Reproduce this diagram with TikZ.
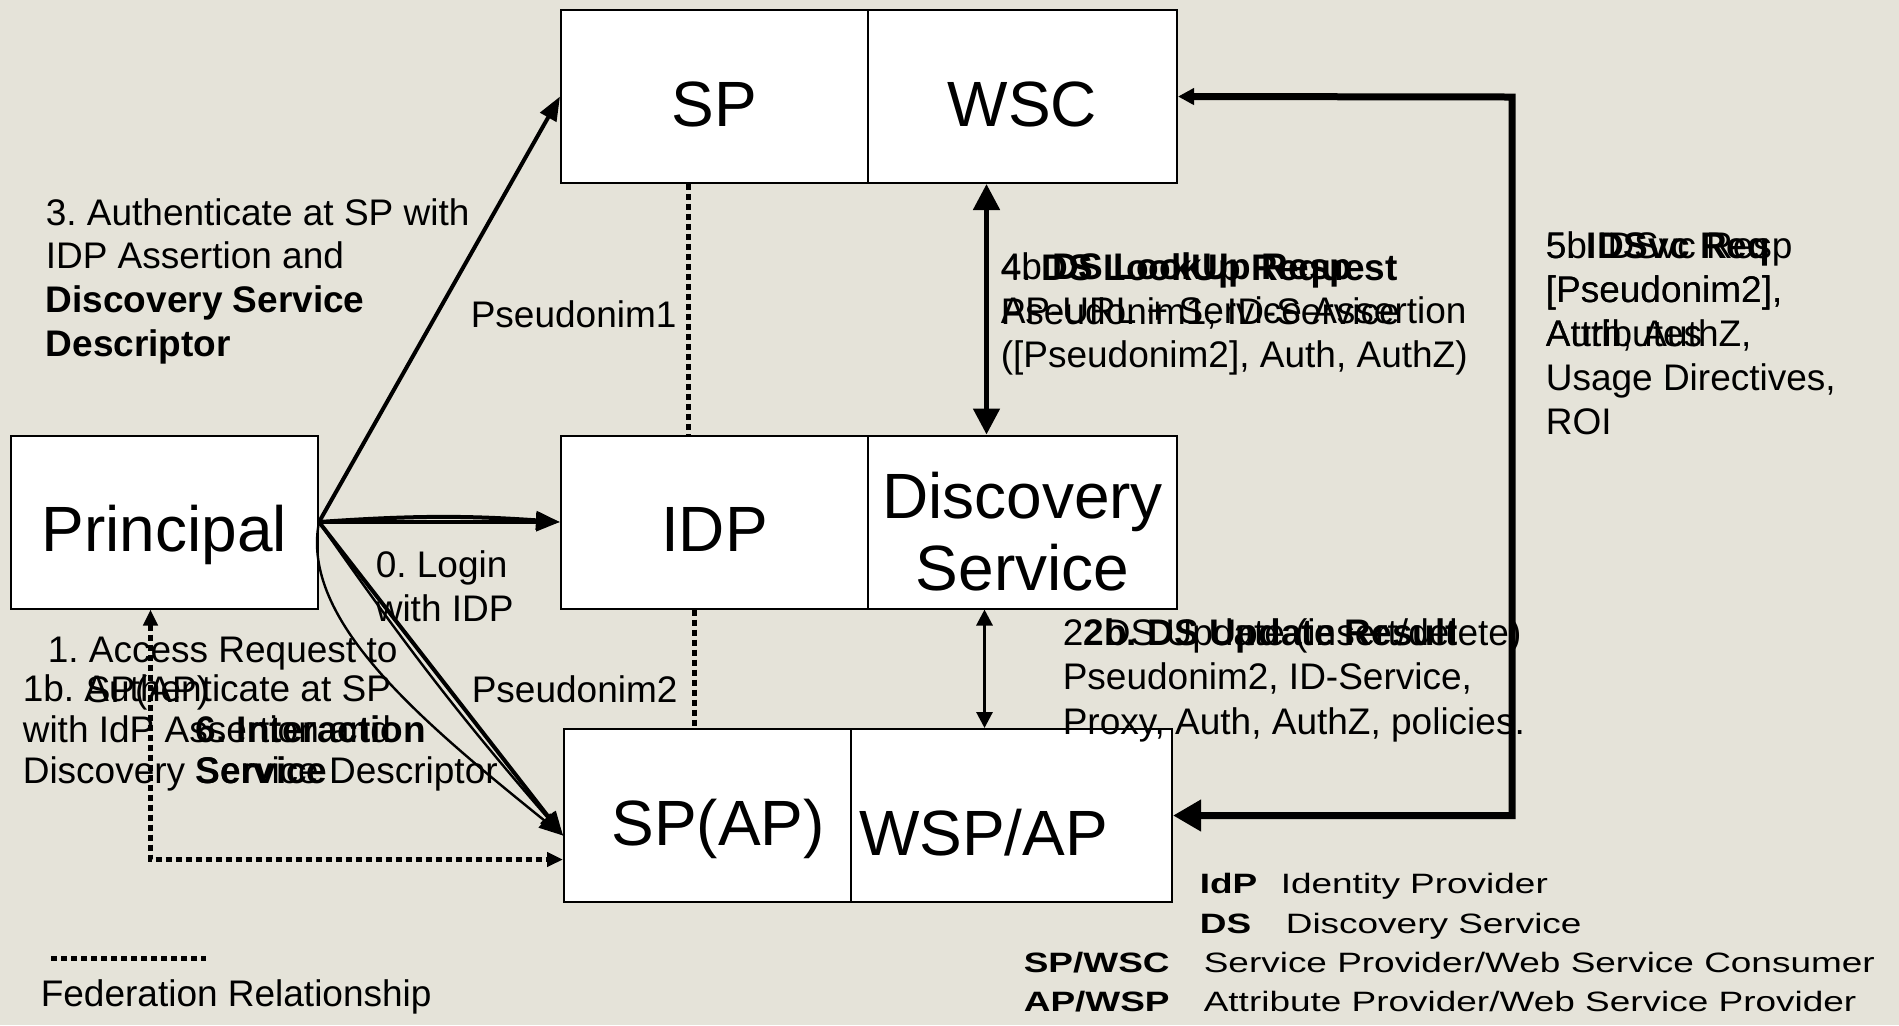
\documentclass[tikz,border=0pt]{standalone}
\usepackage{fontspec}
\setmainfont{Liberation Sans}
\newfontfamily\widefont[FakeStretch=1.32]{Liberation Sans}
\usepackage{tikz}
\usetikzlibrary{arrows.meta}
\frenchspacing
\definecolor{slide}{RGB}{229,227,217}
\tikzstyle{box}=[rectangle, draw, fill=white, line width=1pt, inner sep=0pt, minimum height=86.5pt, text height=29.5pt, text depth=0pt, font=\fontsize{32}{36}\selectfont]
\tikzstyle{note}=[anchor=base west, inner sep=0pt, align=left, font=\fontsize{18.5}{21.8}\selectfont]
\tikzstyle{keytext}=[anchor=base west, inner sep=0pt, font=\widefont\fontsize{14}{16}\selectfont]
\tikzstyle{fed}=[line width=2.5pt, dash pattern=on 3pt off 2pt]
\tikzstyle{msg}=[line width=2pt, -{Triangle[length=12pt, width=9pt]}]

\begin{document}
\begin{tikzpicture}[x=0.5pt, y=-0.5pt, thick]
                    \fill[slide] (0,0) rectangle (1899,1025);
                    \useasboundingbox (0,0) rectangle (1899,1025);
                    \node[box, minimum width=153.5pt] (pr)  at (164.5, 522) {Principal};
                    \node[box, minimum width=153.5pt] (sp)  at (714.5, 96.5) {SP};
                    \node[box, minimum width=154.5pt] (wsc) at (1022.5, 96.5) {WSC};
                    \node[box, minimum width=153.5pt] (idp) at (714.5, 522) {IDP};
                    \node[box, minimum width=154.5pt, align=center, text height=68pt] (ds) at (1022.5, 522) {Discovery\\Service};
                    \node[box, minimum width=143.5pt] (sa)  at (707.5, 815.5) {\hspace*{10.5pt}SP(AP)};
                    \node[box, minimum width=160.5pt, text height=39.5pt] (wsp) at (1011.5, 815.5) {WSP/AP\hspace*{28pt}};
                    \coordinate (rt) at (1512, 97);
                    \draw[msg] (pr.east) -- (sp.west);
                    \draw[msg] (pr.east) -- (idp.west);
                    \draw[msg] (pr.east) to[bend left=4] (idp.west);
                    \draw[msg] (pr.east) -- ([yshift=-10pt]sa.west);
                    \draw[msg, line width=1.2pt] (pr.east) to[bend right=3] ([yshift=-10pt]sa.west);
                    \draw[msg, line width=1.2pt] (pr.east) .. controls (300,620) and (420,720) .. ([yshift=-10pt]sa.west);
                    \draw[fed] ([xshift=-13pt]sp.south) -- ([xshift=-13pt]idp.north);
                    \draw[fed] ([xshift=-10pt]idp.south) -- ([xshift=-10pt]idp.south |- sa.north);
                    \draw[fed, {Triangle[length=8pt, width=7pt]}-{Triangle[length=8pt, width=7pt]}] ([xshift=-7pt]pr.south) |- ([yshift=-22pt]sa.west);
                    \draw[line width=2.5pt, {Triangle[length=13pt, width=13pt]}-{Triangle[length=13pt, width=13pt]}] ([xshift=-18pt]wsc.south) -- ([xshift=-18pt]ds.north);
                    \draw[line width=1.5pt, {Triangle[length=8pt, width=8pt]}-{Triangle[length=8pt, width=8pt]}] ([xshift=-19pt]ds.south) -- ([xshift=-19pt]ds.south |- wsp.north);
                    \draw[line width=3.5pt, {Triangle[length=8pt, width=8pt]}-{Triangle[length=14pt, width=15pt]}] (wsc.east) -- (rt) |- (wsp.east);
                    \node[note] (l3) at (45, 356) {3. Authenticate at SP with\\IDP Assertion and\\\textbf{Discovery Service}\\\textbf{Descriptor}};
                    \node[note] (p1) at (470, 327) {Pseudonim1};
                    \node[note] (l4a) at (1000, 324) {4. \textbf{DS LookUp Request}\\Pseudonim1, ID-Service};
                    \node[note] (l4b) at (1000, 367) {4b \textbf{DS LookUp Resp}\\AP-URL + Service Assertion\\([Pseudonim2], Auth, AuthZ)};
                    \node[note, font=\fontsize{18.5}{22}\selectfont] (l5a) at (1545, 346) {5. \textbf{IDSvc Req}\\{[}Pseudonim2],\\Auth, AuthZ,};
                    \node[note, font=\fontsize{18.5}{22}\selectfont] (l5b) at (1545, 434) {5b IDSvc Resp\\{[}Pseudonim2],\\Attributes\\Usage Directives,\\ROI};
                    \node[note] (l0) at (375, 621) {0. Login\\with IDP};
                    \node[note] (p2) at (471, 702) {Pseudonim2};
                    \node[note, font=\fontsize{18.5}{20}\selectfont] (l1) at (47, 702) {1. Access Request to\\\hspace*{19pt}SP(AP)};
                    \node[note, font=\fontsize{18.5}{20.3}\selectfont] (l1b) at (22, 783) {1b. Authenticate at SP\\with IdP Assertion and\\Discovery Service Descriptor};
                    \node[note, font=\fontsize{18.5}{20.3}\selectfont] (l6) at (195, 783) {\textbf{6. Interaction}\\\textbf{Service}};
                    \node[note, font=\fontsize{18.5}{22.2}\selectfont] (l2a) at (1062, 734) {2. DS Update (insert/delete)\\Pseudonim2, ID-Service,\\Proxy, Auth, AuthZ, policies.};
                    \node[note] (l2b) at (1083, 645) {\textbf{2b. DS Update Result}};
                    \draw[fed] (51, 958) -- (206, 958);
                    \node[note] (fr) at (40, 1006) {Federation Relationship};
                    \node[keytext] (k1)  at (1199, 893) {\textbf{IdP}};
                    \node[keytext] (k1t) at (1280, 893) {Identity Provider};
                    \node[keytext] (k2)  at (1199, 933) {\textbf{DS}};
                    \node[keytext] (k2t) at (1285, 933) {Discovery Service};
                    \node[keytext] (k3)  at (1023, 972) {\textbf{SP/WSC}};
                    \node[keytext] (k3t) at (1203, 972) {Service Provider/Web Service Consumer};
                    \node[keytext] (k4)  at (1023, 1011) {\textbf{AP/WSP}};
                    \node[keytext] (k4t) at (1203, 1011) {Attribute Provider/Web Service Provider};
                \end{tikzpicture}
\end{document}
